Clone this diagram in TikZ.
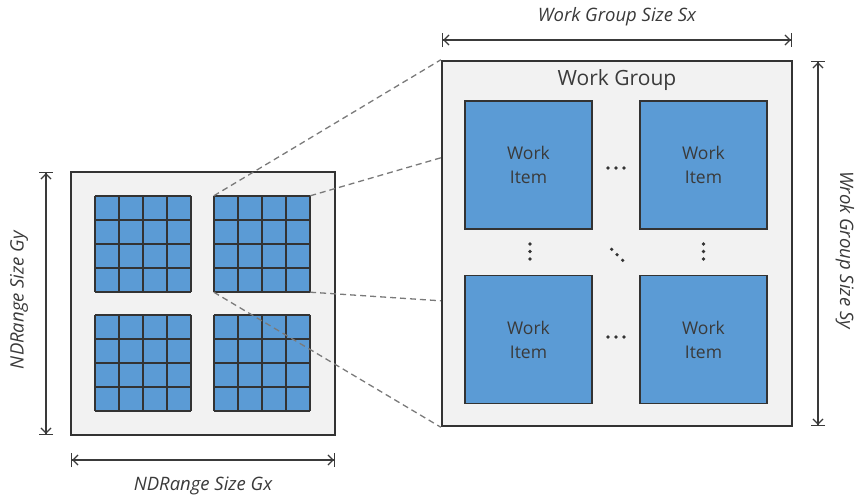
\documentclass[tikz,border=0pt]{standalone}
\usepackage{fontspec}
\setmainfont{Open Sans}
\usetikzlibrary{arrows.meta}
\definecolor{panel}{HTML}{F2F2F2}
\definecolor{edge}{HTML}{333333}
\definecolor{cellblue}{HTML}{5B9BD5}
\definecolor{ink}{HTML}{3A3A3A}
\definecolor{guide}{HTML}{7A7A7A}
\tikzset{
  panelbox/.style={draw=edge, line width=2.4pt, fill=panel, inner sep=0pt},
  gridbox/.style={inner sep=0pt, minimum width=96pt, minimum height=96pt},
  itembox/.style={draw=edge, line width=1.6pt, fill=cellblue, inner sep=0pt,
    minimum width=127pt, minimum height=128pt, align=center,
    font=\fontsize{17.5pt}{24pt}\selectfont, text=ink},
  dimline/.style={draw=ink, line width=1.2pt,
    {Bar[width=14pt,line width=1.2pt]Straight Barb[length=5pt,width=10pt,line width=1.2pt]}-{Straight Barb[length=5pt,width=10pt,line width=1.2pt]Bar[width=14pt,line width=1.2pt]}},
  dimlabel/.style={font=\fontsize{18.5pt}{22pt}\selectfont\itshape, text=ink, inner sep=0pt},
  zoomline/.style={draw=guide, line width=1.3pt, dash pattern=on 6pt off 4pt},
  dotmark/.style={fill=edge, draw=none},
}
\begin{document}
\begin{tikzpicture}[x=1pt, y=-1pt]
\useasboundingbox (0,0) rectangle (857,498);

% NDRange panel
\node[panelbox, minimum width=264pt, minimum height=263pt] (nd) at (203,303.5) {};

% four work-group grids, 4x4 cells each
\foreach \name/\cx/\cy in {g1/143/244, g2/262/244, g3/143/363, g4/262/363}{
  \node[gridbox] (\name) at (\cx,\cy) {};
  \fill[cellblue] (\name.north west) rectangle (\name.south east);
  \foreach \k in {0,1,2,3,4}{
    \draw[edge, line width=1.9pt] ([xshift=\k*24pt]\name.north west) -- ([xshift=\k*24pt]\name.south west);
    \draw[edge, line width=1.9pt] ([yshift=-\k*24pt]\name.north west) -- ([yshift=-\k*24pt]\name.north east);
  }
}

% work-group panel
\node[panelbox, minimum width=350pt, minimum height=365pt] (wg) at (617,243.5) {};
\node[font=\fontsize{21pt}{24pt}\selectfont, text=ink] (wgtitle) at (617,80) {Work Group};

% work items
\node[itembox] (w11) at (528.5,165) {Work\\Item};
\node[itembox] (w12) at (703.5,165) {Work\\Item};
\node[itembox] (w21) at (528.5,339.5) {Work\\Item};
\node[itembox] (w22) at (703.5,339.5) {Work\\Item};

% ellipsis dots
\foreach \y in {168,337}{
  \foreach \x in {608,616,624}{ \fill[dotmark] (\x,\y) circle (1.8pt); }
}
\foreach \x in {530,703.5}{
  \foreach \y in {244,251.5,259}{ \fill[dotmark] (\x,\y) circle (1.8pt); }
}
\foreach \x/\y in {611.7/249.3,617/254.7,622.7/260.3}{ \fill[dotmark] (\x,\y) circle (1.8pt); }

% zoom guides from one grid to the work-group panel
\coordinate (wgA) at ([yshift=-98pt]wg.north west);
\coordinate (wgB) at ([yshift=-241pt]wg.north west);
\draw[zoomline] (g2.north west) -- (wg.north west);
\draw[zoomline] (g2.north east) -- (wgA);
\draw[zoomline] (g2.south east) -- (wgB);
\draw[zoomline] (g2.south west) -- (wg.south west);

% dimension arrows
\coordinate (sxA) at (442,40);  \coordinate (sxB) at (792,40);
\coordinate (syA) at (818,61);  \coordinate (syB) at (818,426);
\coordinate (gyA) at (46,172);  \coordinate (gyB) at (46,435);
\coordinate (gxA) at (71,460);  \coordinate (gxB) at (335,460);
\draw[dimline] (sxA) -- (sxB);
\draw[dimline] (syA) -- (syB);
\draw[dimline] (gyA) -- (gyB);
\draw[dimline] (gxA) -- (gxB);
\node[dimlabel] (sxlab) at (617,17) {Work Group Size Sx};
\node[dimlabel, rotate=-90] (sylab) at (845,250) {Wrok Group Size Sy};
\node[dimlabel, rotate=90] (gylab) at (19,300) {NDRange Size Gy};
\node[dimlabel] (gxlab) at (203,486) {NDRange Size Gx};
\end{tikzpicture}
\end{document}
